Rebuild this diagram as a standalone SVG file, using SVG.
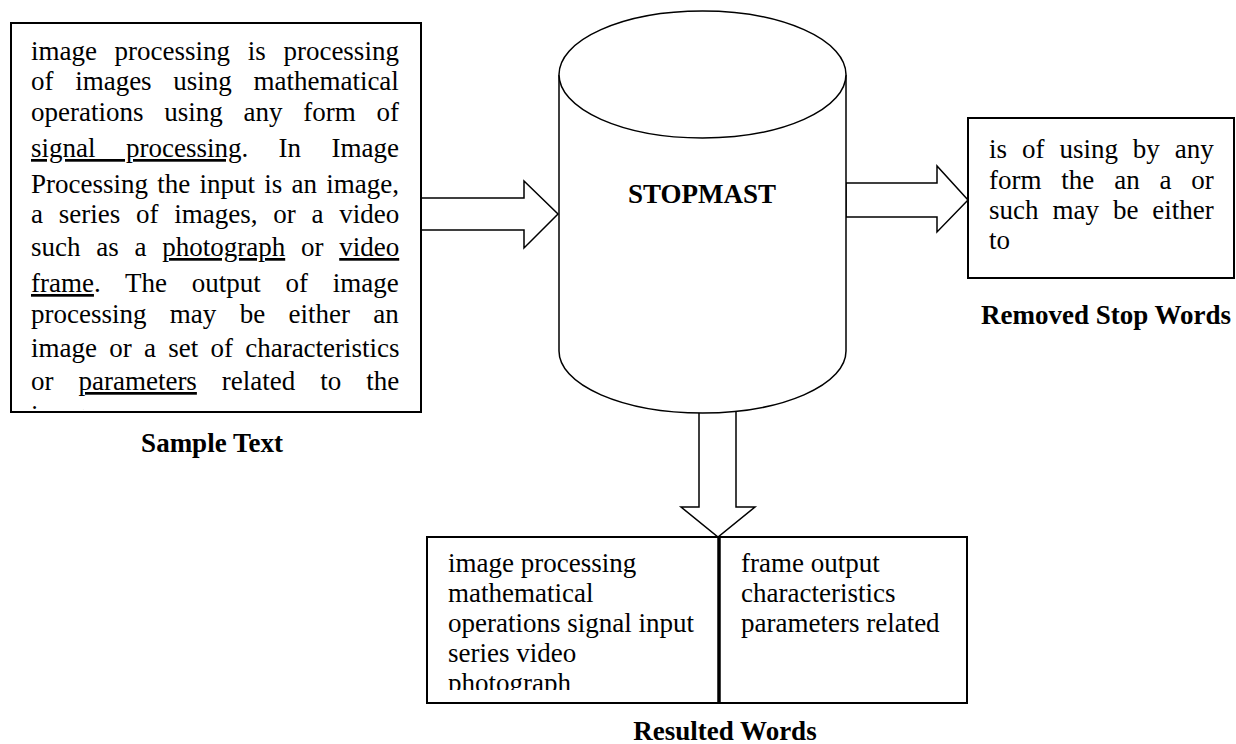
<svg xmlns="http://www.w3.org/2000/svg" width="1236" height="744" viewBox="0 0 1236 744">
  <style>
    .t { font-family: "Liberation Serif", "Times New Roman", serif; font-size: 27px; fill: #000; }
    .b { font-family: "Liberation Serif", "Times New Roman", serif; font-size: 27px; font-weight: bold; fill: #000; }
    .u { text-decoration: underline; }
    .box { fill: #fff; stroke: #000; stroke-width: 2; }
    .shape { fill: #fff; stroke: #000; stroke-width: 1.5; }
  </style>
  <defs>
    <clipPath id="clipLeft"><rect x="12" y="24" width="408" height="386"/></clipPath>
    <clipPath id="clipBottom"><rect x="428" y="538" width="290" height="152"/></clipPath>
  </defs>
  <rect width="1236" height="744" fill="#fff"/>

  <g id="connectors">
    <polygon class="shape" points="421,198 524,198 524,181 558,214 524,248 524,230 421,230"/>
    <polygon class="shape" points="846,183 937,183 937,166 968,200 937,232 937,217 846,217"/>
    <polygon class="shape" points="699,410 699,507 681,507 718,537 755,507 736,507 736,410"/>
  </g>

  <g id="stopmast">
    <path class="shape" d="M559,75 L559,351 A143.5,62 0 0 0 846,351 L846,75"/>
    <ellipse class="shape" cx="702.5" cy="74.5" rx="143.5" ry="63.5"/>
    <text class="b" x="702" y="203" text-anchor="middle">STOPMAST</text>
  </g>

  <g id="sample-text">
    <rect class="box" x="11" y="23" width="410" height="389"/>
    <g clip-path="url(#clipLeft)">
      <text class="t" x="31" y="60" word-spacing="10.9">image processing is processing</text>
      <text class="t" x="31" y="90" word-spacing="14.9">of images using mathematical</text>
      <text class="t" x="31" y="121" word-spacing="14">operations using any form of</text>
      <text class="t" x="31" y="157" word-spacing="23.7"><tspan class="u">signal processing</tspan>. In Image</text>
      <text class="t" x="31" y="193" word-spacing="2.5">Processing the input is an image,</text>
      <text class="t" x="31" y="223" word-spacing="9">a series of images, or a video</text>
      <text class="t" x="31" y="256" word-spacing="9">such as a <tspan class="u">photograph</tspan> or <tspan class="u">video</tspan></text>
      <text class="t" x="31" y="292" word-spacing="18"><tspan class="u">frame</tspan>. The output of image</text>
      <text class="t" x="31" y="323" word-spacing="16.6">processing may be either an</text>
      <text class="t" x="31" y="357" word-spacing="5.5">image or a set of characteristics</text>
      <text class="t" x="31" y="390" word-spacing="18.2">or <tspan class="u">parameters</tspan> related to the</text>
      <text class="t" x="31" y="424">image.</text>
    </g>
    <text class="b" x="212" y="452" text-anchor="middle">Sample Text</text>
  </g>

  <g id="removed-stop-words">
    <rect class="box" x="968" y="118" width="266" height="160"/>
    <text class="t" x="989" y="158" word-spacing="8.2">is of using by any</text>
    <text class="t" x="989" y="189" word-spacing="13.1">form the an a or</text>
    <text class="t" x="989" y="219" word-spacing="7.2">such may be either</text>
    <text class="t" x="989" y="249">to</text>
    <text class="b" x="1106" y="324" text-anchor="middle">Removed Stop Words</text>
  </g>

  <g id="resulted-words">
    <rect class="box" x="427" y="537" width="540" height="166"/>
    <line x1="719" y1="537" x2="719" y2="703" stroke="#000" stroke-width="3.5"/>
    <g clip-path="url(#clipBottom)">
      <text class="t" x="448" y="572">image processing</text>
      <text class="t" x="448" y="602">mathematical</text>
      <text class="t" x="448" y="632">operations signal input</text>
      <text class="t" x="448" y="662">series video</text>
      <text class="t" x="448" y="692">photograph</text>
    </g>
    <text class="t" x="741" y="572">frame output</text>
    <text class="t" x="741" y="602">characteristics</text>
    <text class="t" x="741" y="632">parameters related</text>
    <text class="b" x="725" y="740" text-anchor="middle">Resulted Words</text>
  </g>
</svg>
